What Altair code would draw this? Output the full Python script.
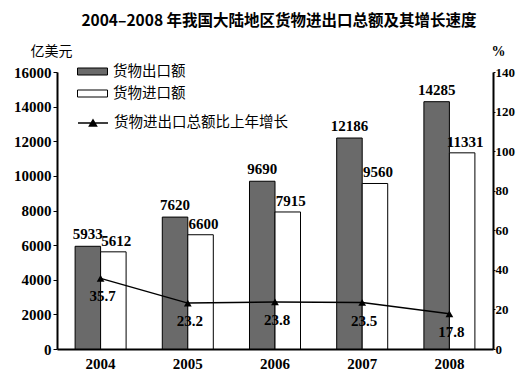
import altair as alt
import pandas as pd

years = ["2004", "2005", "2006", "2007", "2008"]
exports = [5933, 7620, 9690, 12186, 14285]
imports = [5612, 6600, 7915, 9560, 11331]
growth = [35.7, 23.2, 23.8, 23.5, 17.8]
bar_series = ["货物出口额", "货物进口额"]
line_series = "货物进出口总额比上年增长"
title_text = "2004–2008 年我国大陆地区货物进出口总额及其增长速度"

bars_df = pd.DataFrame({
    "year": years * 2,
    "series": [bar_series[0]] * 5 + [bar_series[1]] * 5,
    "value": exports + imports,
})
line_df = pd.DataFrame({"year": years, "growth": growth, "series": [line_series] * 5})

CJK = "Noto Sans CJK SC"
NUM = "Liberation Serif"
NUMW = "bold"
rect_path = "M-1.5,-0.35H1.5V0.35H-1.5Z"
line_path = "M-1.5,0H1.5M-0.35,0.3L0,-0.3L0.35,0.3Z"

x = alt.X(
    "year:N",
    scale=alt.Scale(paddingInner=0.415, paddingOuter=0.2075),
    axis=alt.Axis(title=None, labelAngle=0, labelFont=NUM, labelFontSize=15,
                  labelFontWeight=NUMW, labelColor="black", ticks=False,
                  domainColor="black", domainWidth=2, labelPadding=7, grid=False,
                  labelOverlap=False),
)

y_left = alt.Y(
    "value:Q",
    scale=alt.Scale(domain=[0, 16000], nice=False),
    axis=alt.Axis(title="亿美元", titleAngle=0, titleAlign="center", titleBaseline="middle",
                  titleX=-6, titleY=-21, titleFont=CJK, titleFontSize=14,
                  titleFontWeight="normal", titleColor="black",
                  values=list(range(0, 16001, 2000)), format="d",
                  labelFont=NUM, labelFontSize=15, labelFontWeight=NUMW, labelColor="black",
                  tickColor="black", tickSize=4, labelPadding=2, labelOverlap=False,
                  labelSeparation=0, domainColor="black", domainWidth=2, grid=False),
)

xoff = alt.XOffset("series:N", sort=bar_series,
                   scale=alt.Scale(domain=bar_series, paddingInner=0, paddingOuter=0))

bar = alt.Chart(bars_df).mark_bar(stroke="black", strokeWidth=1).encode(
    x=x,
    xOffset=xoff,
    y=y_left,
    fill=alt.Fill(
        "series:N",
        sort=bar_series,
        scale=alt.Scale(domain=bar_series, range=["#6a6a6a", "white"]),
        legend=alt.Legend(
            title=None, orient="none", legendX=25, legendY=-11, direction="vertical",
            padding=0, symbolSize=400, symbolType=rect_path, symbolStrokeColor="black",
            symbolStrokeWidth=1, labelFont=CJK, labelFontSize=14.5, labelColor="black",
            labelOffset=10, rowPadding=5, labelLimit=0,
        ),
    ),
)

export_text = alt.Chart(bars_df).transform_filter(
    alt.datum.series == bar_series[0]
).mark_text(font=NUM, fontSize=15, fontWeight=NUMW, color="black", dy=-7, baseline="alphabetic").encode(
    x=x, xOffset=xoff, y=y_left, text=alt.Text("value:Q", format="d"),
)

import_text = alt.Chart(bars_df).transform_filter(
    alt.datum.series == bar_series[1]
).mark_text(font=NUM, fontSize=15, fontWeight=NUMW, color="black", dy=-6, dx=3, baseline="alphabetic").encode(
    x=x, xOffset=xoff, y=y_left, text=alt.Text("value:Q", format="d"),
)

left_layer = alt.layer(bar, export_text, import_text)

y_right = alt.Y(
    "growth:Q",
    scale=alt.Scale(domain=[0, 140], nice=False),
    axis=alt.Axis(orient="right", title="%", titleAngle=0, titleAlign="center",
                  titleBaseline="middle", titleX=5, titleY=-21, titleFont=NUM,
                  titleFontSize=14, titleFontWeight="bold", titleColor="black",
                  values=list(range(0, 141, 20)), labelFont=NUM, labelFontSize=13,
                  labelFontWeight=NUMW, labelOverlap=False, labelSeparation=0,
                  labelColor="black", tickColor="black", tickSize=2, labelPadding=0,
                  domainColor="black", domainWidth=2, grid=False),
)

line = alt.Chart(line_df).mark_line(strokeWidth=1.5).encode(
    x=x,
    y=y_right,
    stroke=alt.Stroke(
        "series:N",
        scale=alt.Scale(domain=[line_series], range=["black"]),
        legend=alt.Legend(
            title=None, orient="none", legendX=25, legendY=40, padding=0,
            symbolSize=400, symbolType=line_path, symbolFillColor="black",
            symbolStrokeColor="black", symbolStrokeWidth=1.5, labelLimit=0,
            labelFont=CJK, labelFontSize=14.5, labelColor="black", labelOffset=10,
        ),
    ),
)

points = alt.Chart(line_df).mark_point(shape="triangle-up", filled=True, color="black",
                                        size=60, opacity=1).encode(x=x, y=y_right)

line_text = alt.Chart(line_df).mark_text(font=NUM, fontSize=15, fontWeight=NUMW, color="black", dy=18, dx=2).encode(
    x=x, y=y_right, text=alt.Text("growth:Q", format=".1f"),
)

right_layer = alt.layer(line, points, line_text)

chart = alt.layer(left_layer, right_layer).resolve_scale(
    y="independent", fill="independent", stroke="independent"
).properties(
    width=436,
    height=277,
    padding={"left": 57, "top": 72, "right": 23, "bottom": 29},
    autosize=alt.AutoSizeParams(type="none"),
    background="white",
    title=alt.TitleParams(title_text, font=CJK, fontSize=15.5, fontWeight="bold",
                          color="black", anchor="middle", offset=15, dx=4),
).configure_view(stroke=None).configure_axis(labelOverlap=False)

chart.save("out.html", embed_options={"renderer": "svg", "actions": False})
